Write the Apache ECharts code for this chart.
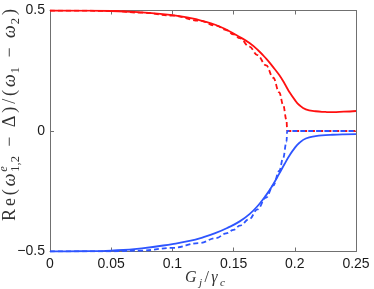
<!DOCTYPE html>
<html><head><meta charset="utf-8">
<script src="https://cdn.jsdelivr.net/npm/echarts@6/dist/echarts.min.js"></script>
<style>html,body{margin:0;padding:0;background:#fff}#c{width:374px;height:289px}</style>
</head><body><div id="c"></div>
<script>
// ---- data ----
const gSolid    = [0, 0.025, 0.05, 0.075, 0.1, 0.115, 0.125, 0.135, 0.145, 0.155, 0.163, 0.17, 0.1766, 0.182, 0.1873, 0.1915, 0.1954, 0.2, 0.2036, 0.209, 0.217, 0.225, 0.2307, 0.24, 0.25];
const redSolid  = [0.5, 0.4995, 0.498, 0.492, 0.481, 0.468, 0.456, 0.441, 0.418, 0.39, 0.365, 0.335, 0.30, 0.267, 0.232, 0.198, 0.163, 0.129, 0.108, 0.09, 0.082, 0.079, 0.078, 0.08, 0.083];
const blueSolid = [-0.5, -0.499, -0.496, -0.487, -0.469, -0.455, -0.441, -0.424, -0.402, -0.375, -0.345, -0.309, -0.266, -0.224, -0.177, -0.138, -0.104, -0.07, -0.05, -0.031, -0.021, -0.017, -0.0155, -0.014, -0.013];
const gDashed    = [0, 0.025, 0.05, 0.075, 0.1, 0.122, 0.1358, 0.1439, 0.15, 0.155, 0.163, 0.1694, 0.1766, 0.1824, 0.1873, 0.1905, 0.1932, 0.1938, 0.21, 0.25];
const redDashed  = [0.5, 0.4995, 0.498, 0.491, 0.479, 0.458, 0.437, 0.419, 0.401, 0.385, 0.35, 0.315, 0.272, 0.221, 0.16, 0.108, 0.046, 0, 0, 0];
const blueDashed = [-0.5, -0.4995, -0.499, -0.496, -0.485, -0.465, -0.444, -0.425, -0.41, -0.393, -0.365, -0.325, -0.276, -0.226, -0.166, -0.112, -0.045, 0, 0, 0];
const xRange = [0, 0.25], xStep = 0.05;
const yRange = [-0.5, 0.5], yStep = 0.5;

const pairs = (xs, ys) => xs.map((x, i) => [x, ys[i]]);

// ---- math text helper (layout only) ----
const mctx = document.createElement('canvas').getContext('2d');
function tw(t, font) { mctx.font = font; return mctx.measureText(t).width; }
function mathChildren(tokens, size, fam, color, target) {
  const ss = size * 0.7;
  const items = [];
  tokens.forEach(tk => {
    if (tk.t !== undefined) {
      const f = (tk.it ? 'italic ' : '') + size + 'px ' + fam;
      items.push({w: tw(tk.t, f), wt: tk.wt === undefined ? 1 : tk.wt, parts: [{text: tk.t, font: f, y: 0}]});
    } else {
      let w = 0; const parts = [];
      if (tk.sup) { const f = (tk.supIt ? 'italic ' : '') + ss + 'px ' + fam; parts.push({text: tk.sup, font: f, y: -size * 0.36}); w = Math.max(w, tw(tk.sup, f)); }
      if (tk.sub) { const f = (tk.subIt ? 'italic ' : '') + ss + 'px ' + fam; parts.push({text: tk.sub, font: f, y: size * 0.3}); w = Math.max(w, tw(tk.sub, f)); }
      items.push({w: w, wt: tk.wt === undefined ? 1 : tk.wt, parts: parts});
    }
  });
  const natural = items.reduce((s, it) => s + it.w, 0);
  const wsum = items.slice(0, -1).reduce((s, it) => s + it.wt, 0);
  const unit = wsum > 0 ? Math.max(0, (target - natural) / wsum) : 0;
  const total = natural + unit * wsum;
  const children = []; let x = -total / 2;
  items.forEach(it => {
    it.parts.forEach(p => children.push({type: 'text', x: x, y: p.y,
      style: {text: p.text, font: p.font, fill: color, textAlign: 'left', textVerticalAlign: 'middle'}}));
    x += it.w + unit * it.wt;
  });
  return children;
}
const serif = '"Liberation Serif", "DejaVu Serif", serif';
const yTitle = [
  {t: 'R', wt: 0.5}, {t: 'e', wt: 0.5}, {t: '(', wt: 0.5}, {t: 'ω', it: true, wt: 0.3}, {sup: 'e', supIt: true, sub: '1,2', wt: 1.6},
  {t: '−', wt: 1.6}, {t: 'Δ', wt: 0.5}, {t: ')', wt: 0.5}, {t: '/', wt: 0.5}, {t: '(', wt: 0.5}, {t: 'ω', it: true, wt: 0.2}, {sub: '1', wt: 1.6}, {t: '−', wt: 1.6}, {t: 'ω', it: true, wt: 0.2}, {sub: '2', wt: 0.5}, {t: ')'}
];
const xTitle = [{t: 'G', it: true}, {sub: 'j', subIt: true}, {t: '/'}, {t: 'γ', it: true}, {sub: 'c', subIt: true}];

const axisCol = '#707070';
const lblStyle = {color: '#1a1a1a', fontSize: 14, fontFamily: '"Liberation Sans", Arial, sans-serif'};
const fmtNum = v => { const s = String(+v.toFixed(3)); return v < 0 ? '\u2212' + s.slice(1) : s; };
const baseX = {type: 'value', min: xRange[0], max: xRange[1], interval: xStep,
  axisLine: {show: true, onZero: false, lineStyle: {color: axisCol, width: 1}},
  axisTick: {show: true, inside: true, length: 4, lineStyle: {color: axisCol}},
  splitLine: {show: false}};
const baseY = {type: 'value', min: yRange[0], max: yRange[1], interval: yStep,
  axisLine: {show: true, onZero: false, lineStyle: {color: axisCol, width: 1}},
  axisTick: {show: true, inside: true, length: 4, lineStyle: {color: axisCol}},
  splitLine: {show: false}};

const chart = echarts.init(document.getElementById('c'), null, {renderer: 'canvas'});
const red = '#ff1010', blue = '#2e55ff';
const lineBase = {type: 'line', showSymbol: false, symbol: 'none', silent: true, animation: false};
chart.setOption({
  animation: false,
  grid: {left: 50, right: 18, top: 10.5, bottom: 37.5, containLabel: false},
  xAxis: [
    Object.assign({}, baseX, {position: 'bottom', axisLabel: Object.assign({margin: 6, formatter: fmtNum}, lblStyle)}),
    Object.assign({}, baseX, {position: 'top', axisLabel: {show: false}})
  ],
  yAxis: [
    Object.assign({}, baseY, {position: 'left', axisLabel: Object.assign({margin: 5, formatter: fmtNum}, lblStyle)}),
    Object.assign({}, baseY, {position: 'right', axisLabel: {show: false}})
  ],
  series: [
    Object.assign({}, lineBase, {name: 'red solid', smooth: 0.5, data: pairs(gSolid, redSolid), lineStyle: {color: red, width: 1.8}}),
    Object.assign({}, lineBase, {name: 'red dashed', smooth: 0.4, smoothMonotone: 'x', data: pairs(gDashed, redDashed), lineStyle: {color: red, width: 1.8, type: [5, 3]}}),
    Object.assign({}, lineBase, {name: 'blue solid', smooth: 0.5, data: pairs(gSolid, blueSolid), lineStyle: {color: blue, width: 1.8}}),
    Object.assign({}, lineBase, {name: 'blue dashed', smooth: 0.4, smoothMonotone: 'x', data: pairs(gDashed, blueDashed), lineStyle: {color: blue, width: 1.8, type: [5, 3]}})
  ],
  graphic: [
    {type: 'group', x: 10, y: 115, rotation: Math.PI / 2, children: mathChildren(yTitle, 18, serif, '#333', 212)},
    {type: 'group', x: 205, y: 278, children: mathChildren(xTitle, 16, serif, '#333', 40)}
  ]
});
</script></body></html>
